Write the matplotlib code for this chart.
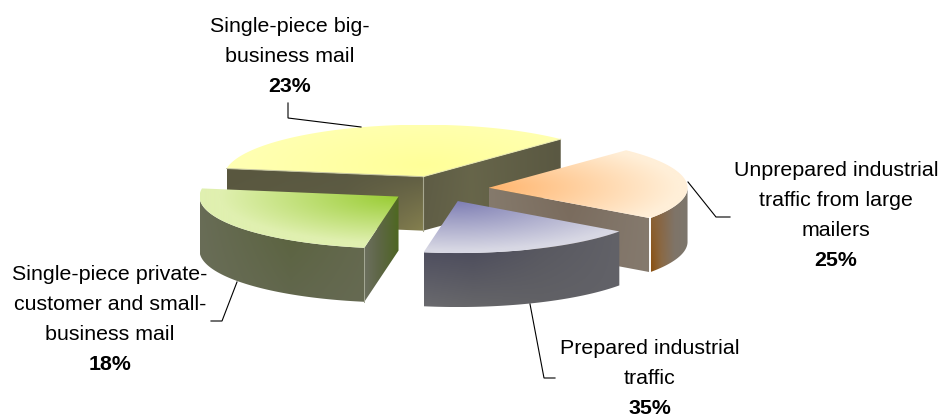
import numpy as np
import matplotlib
matplotlib.use('Agg')
import matplotlib.pyplot as plt
from matplotlib.colors import to_rgb
from matplotlib.patches import Polygon

plt.rcParams['font.family'] = ['Liberation Sans', 'DejaVu Sans']

# wedge sizes, clockwise from the left: yellow, orange, blue, green
wedge_values = [35, 23, 18, 25]
start_angle = 171

# labels, in the same wedge order; the leaders tie each one to its wedge
label_lines = [
    ['Single-piece big-', 'business mail'],
    ['Unprepared industrial', 'traffic from large', 'mailers'],
    ['Prepared industrial', 'traffic'],
    ['Single-piece private-', 'customer and small-', 'business mail'],
]
label_values = [23, 25, 35, 18]

# pie geometry, in pixels
CX, CY = 439, 189
A, B = 199, 52
EXPLODE = 0.25
DEPTH = 54

fig = plt.figure(figsize=(9.42, 4.18), dpi=100)
ax = fig.add_axes([0, 0, 1, 1])


def rim(cx, cy, angles):
    t = np.radians(angles)
    return np.column_stack([cx + A * np.cos(t), cy - B * np.sin(t)])


def fill_image(pts, rgb_img, zorder):
    x0, x1 = pts[:, 0].min(), pts[:, 0].max()
    y0, y1 = pts[:, 1].min(), pts[:, 1].max()
    im = ax.imshow(rgb_img, extent=(x0, x1, y1, y0), aspect='auto',
                   interpolation='bilinear', zorder=zorder)
    clip = Polygon(pts, closed=True, transform=ax.transData)
    im.set_clip_path(clip)


def side_face(pts, stops, top, bottom, zorder):
    # colour runs across the stops in x and from top to bottom in y
    xs = np.linspace(0, 1, 160)
    ys = np.linspace(0, 1, 80)
    t_rgb = np.array([np.interp(xs, stops, [to_rgb(c)[i] for c in top]) for i in range(3)]).T
    b_rgb = np.array([np.interp(xs, stops, [to_rgb(c)[i] for c in bottom]) for i in range(3)]).T
    img = t_rgb[None, :, :] * (1 - ys[:, None, None]) + b_rgb[None, :, :] * ys[:, None, None]
    fill_image(pts, img, zorder)


def top_face(cx, cy, pts, inner, outer, reach, zorder):
    # radial fade away from the apex, measured on the flattened circle
    x0, x1 = pts[:, 0].min(), pts[:, 0].max()
    y0, y1 = pts[:, 1].min(), pts[:, 1].max()
    gx, gy = np.meshgrid(np.linspace(x0, x1, 300), np.linspace(y0, y1, 120))
    r = np.hypot((gx - cx) / A, (gy - cy) / B) / reach
    r = np.clip(r, 0, 1)[..., None]
    img = np.array(to_rgb(inner)) * (1 - r) + np.array(to_rgb(outer)) * r
    fill_image(pts, img, zorder)


def radial_face(cx, cy, angle):
    e = rim(cx, cy, [angle])[0]
    return np.array([[cx, cy], e, e + [0, DEPTH], [cx, cy + DEPTH]])


def arc_face(cx, cy, a1, a2):
    arc = rim(cx, cy, np.linspace(a1, a2, 60))
    return np.vstack([arc, arc[::-1] + [0, DEPTH]])


total = sum(wedge_values)
spans = [v / total * 360 for v in wedge_values]
edges = start_angle - np.concatenate([[0], np.cumsum(spans)])
centres = []
for i in range(4):
    mid = np.radians((edges[i] + edges[i + 1]) / 2)
    centres.append((CX + EXPLODE * A * np.cos(mid), CY - EXPLODE * B * np.sin(mid)))


def top_poly(i):
    cx, cy = centres[i]
    return np.vstack([[cx, cy], rim(cx, cy, np.linspace(edges[i], edges[i + 1], 120))])


# yellow, furthest back
cx, cy = centres[0]
z = 1
left = radial_face(cx, cy, edges[0])
right = radial_face(cx, cy, edges[1])
side_face(left, [0, 0.6, 1], ['#59573f', '#5a5942', '#5c5a42'], ['#5c5a42', '#625f44', '#85804f'], z)
side_face(right, [0, 0.35, 1], ['#5c5a44', '#66654a', '#5a5842'], ['#605e46', '#68664a', '#5a5842'], z)
top_face(cx, cy - 12, top_poly(0), '#ffff99', '#ffffb4', 1.0, z + 0.1)
ax.plot([cx, cx], [cy, cy + DEPTH], color='#a8a890', lw=0.8, zorder=z + 0.2)
ax.plot(*np.column_stack([left[0], left[1]]), color='#c4c4a0', lw=0.7, zorder=z + 0.2)
ax.plot(*np.column_stack([right[0], right[1]]), color='#e8e8b0', lw=0.7, zorder=z + 0.2)

# orange
cx, cy = centres[1]
z = 2
face = radial_face(cx, cy, edges[2])
side_face(face, [0, 0.5, 1], ['#857a6c', '#796a5b', '#857a6e'], ['#857a6c', '#7e7165', '#857a6e'], z)
outer = arc_face(cx, cy, edges[2], 0)
side_face(outer, [0, 0.3, 0.65, 1], ['#8c6c48', '#84664a', '#7f7468', '#7c766c'],
          ['#8a4c08', '#8c6a44', '#7f7468', '#7c766c'], z)
top_face(cx, cy, top_poly(1), '#ffb56e', '#ffefd8', 0.95, z + 0.1)
e = rim(cx, cy, [edges[2]])[0]
ax.plot([e[0], e[0]], [e[1], e[1] + DEPTH], color='white', lw=1.4, zorder=z + 0.2)

# green
cx, cy = centres[3]
z = 3
outer = arc_face(cx, cy, edges[3], -180)
side_face(outer, [0, 0.55, 1], ['#686c56', '#586238', '#63684c'], ['#6a6e58', '#62674e', '#666a52'], z)
face = radial_face(cx, cy, edges[3])
side_face(face, [0, 0.4, 1], ['#6d7060', '#5f6748', '#4e6a1e'], ['#6d7060', '#5f6748', '#4e5f28'], z)
top_face(cx, cy, top_poly(3), '#99cc33', '#e0f0b0', 0.9, z + 0.1)
e = rim(cx, cy, [edges[3]])[0]
ax.plot([e[0], e[0]], [e[1], e[1] + DEPTH], color='#a4a894', lw=0.7, zorder=z + 0.2)

# blue, closest
cx, cy = centres[2]
z = 4
outer = arc_face(cx, cy, edges[2], edges[3])
side_face(outer, [0, 0.25, 0.6, 1], ['#45455a', '#444458', '#56565f', '#626268'],
          ['#6a6a6e', '#666669', '#626266', '#626268'], z)
top_face(cx, cy, top_poly(2), '#7f7fb4', '#d8d8e4', 0.95, z + 0.1)

# leader lines
leaders = [
    ([361, 288, 288], [127, 118, 103]),
    ([688, 716, 730], [182, 217, 217]),
    ([530, 544, 555], [304, 378, 378]),
    ([237, 222, 211], [282, 321, 321]),
]
for lx, ly in leaders:
    ax.plot(lx, ly, color='black', lw=0.8, zorder=6, solid_joinstyle='miter')

# label text, one row at a time because the rows sit far apart
label_pos = [(290, 27), (836, 170), (650, 349), (110, 275)]
ROW = 30
for (x, y), lines, val in zip(label_pos, label_lines, label_values):
    for k, line in enumerate(lines):
        ax.text(x, y + k * ROW, line, ha='center', va='center', fontsize=15.4, color='black', zorder=7)
    ax.text(x, y + len(lines) * ROW, '{}%'.format(val), ha='center', va='center',
            fontsize=15.4, fontweight='bold', color='black', zorder=7)

ax.set_xlim(0, 942)
ax.set_ylim(418, 0)
ax.axis('off')
fig.savefig('out.png', dpi=100, facecolor='white')
